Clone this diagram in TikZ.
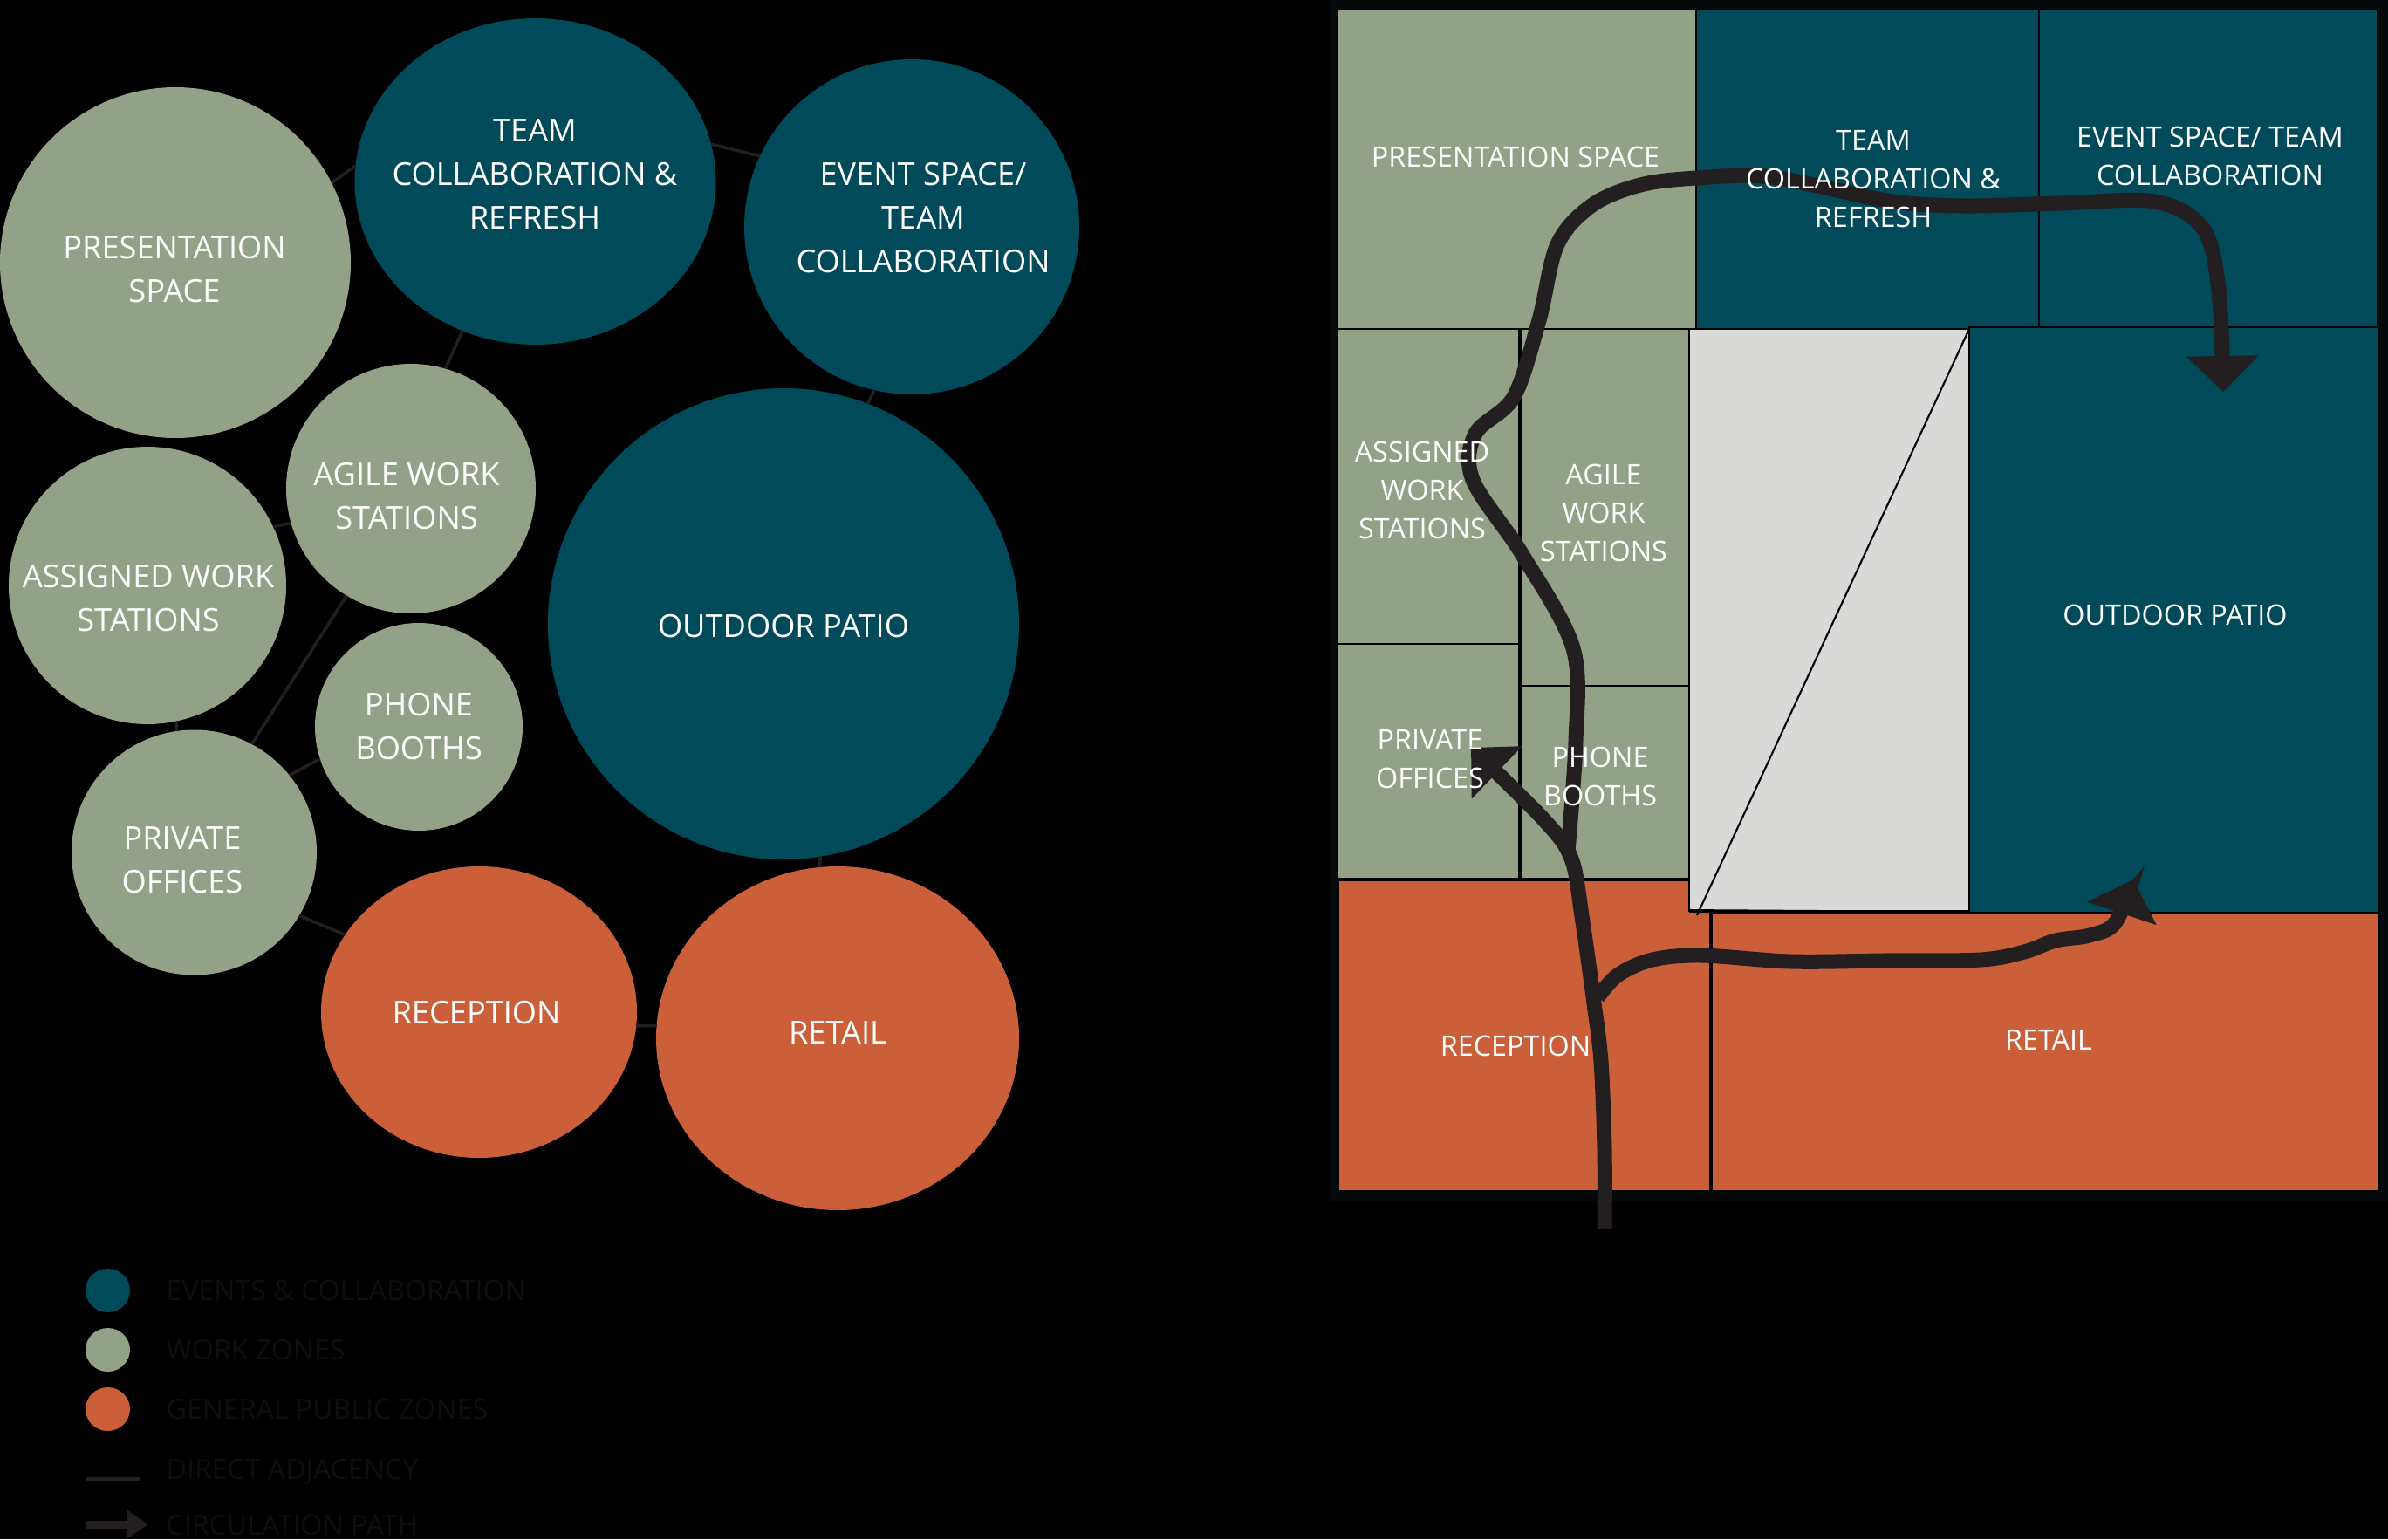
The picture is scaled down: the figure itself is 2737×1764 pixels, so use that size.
\documentclass[tikz,border=0pt]{standalone}
\usepackage{fontspec}
\setmainfont{Open Sans}
\usetikzlibrary{arrows.meta, shapes.geometric}
\definecolor{cteal}{HTML}{004A59}
\definecolor{csage}{HTML}{93A186}
\definecolor{crust}{HTML}{CB5F3A}
\definecolor{cgrey}{HTML}{D9D9D7}
\definecolor{cink}{HTML}{231F20}
\definecolor{cstrip}{HTML}{040808}
\definecolor{cfaint}{HTML}{0E0E0E}
\tikzset{
  zone/.style={ellipse, fill=#1, inner sep=0pt, outer sep=0pt},
  room/.style={draw=black, line width=0.5pt, fill=#1, anchor=north west, inner sep=0pt, outer sep=0pt},
  bigtext/.style={text=white, align=center, font=\fontsize{10.3}{14.2}\selectfont},
  roomtext/.style={text=white, align=center, font=\fontsize{9.2}{12.45}\selectfont},
  legendtext/.style={text=cfaint, anchor=west, inner sep=0pt, font=\fontsize{9.12}{12.45}\selectfont},
  link/.style={draw=cink, line width=1pt},
  wall/.style={draw=black, line width=1.1pt},
  circ/.style={-{Triangle[length=4.1mm, width=8.1mm]}, draw=cink, line width=1.7mm},
}
\begin{document}
\begin{tikzpicture}[x=0.01cm, y=-0.01cm]
  \useasboundingbox (0,0) rectangle (2737,1764);
  \fill[black] (0,0) rectangle (2737,1764);
  \fill[cstrip] (1524,0) rectangle (2737,1376);
  \foreach \n/\c/\x/\y/\w/\h in {pres/csage/201/301/402/402, team/cteal/613.5/208/414/374, event/cteal/1045/260/384/384,
      patio/cteal/898/715/540/540, agile/csage/471/560/286/286, assigned/csage/169/671/318/318, phone/csage/480/833/238/238,
      private/csage/222.5/977/281/281, reception/crust/549/1160/362/334, retail/crust/960/1190/416/394} {
    \node[zone=\c, minimum width=\w*0.01cm, minimum height=\h*0.01cm] (\n) at (\x,\y) {};
  }
  \draw[link] (pres.27.8) -- (team.175.8);
  \draw[link] (team.12.6) -- (event.155);
  \draw[link] (team.-116.9) -- (agile.74.2);
  \draw[link] (event.-103.1) -- (patio.69.9);
  \draw[link] (assigned.25.9) -- (agile.196.5);
  \draw[link] (assigned.-78.5) -- (private.98.9);
  \draw[link] (agile.-121.7) -- (private.62.3);
  \draw[link] (phone.198.1) -- (private.39.5);
  \draw[link] (private.-31.2) -- (reception.150.5);
  \draw[link] (reception.-5) -- (retail.176.1);
  \draw[link] (patio.-81.4) -- (retail.96.4);
  \foreach \n/\x/\y/\t in {pres/200/309/{PRESENTATION\\SPACE}, team/613/200/{TEAM\\COLLABORATION \&\\REFRESH},
      event/1058/250/{EVENT SPACE/\\TEAM\\COLLABORATION}, patio/898/718/{OUTDOOR PATIO}, agile/466/569/{AGILE WORK\\STATIONS},
      assigned/170/686/{ASSIGNED WORK\\STATIONS}, phone/480/833/{PHONE\\BOOTHS}, private/209/986/{PRIVATE\\OFFICES},
      reception/546/1161/{RECEPTION}, retail/960/1184/{RETAIL}} {
    \node[bigtext] (\n-t) at (\x,\y) {\t};
  }
  \foreach \n/\c/\x/\y/\w/\h in {rreception/crust/1534/1008/427/357, rretail/crust/1961/1046/766/319, rpres/csage/1533/11/411/366,
      rteam/cteal/1944/11/393/366, revent/cteal/2337/11/388/366, rassigned/csage/1533/377/209/361, ragile/csage/1742/377/194/409,
      rprivate/csage/1533/738/209/270, rphone/csage/1742/786/194/222, rgrey/cgrey/1936/377/321/667, rpatio/cteal/2257/375/470/671} {
    \node[room=\c, minimum width=\w*0.01cm, minimum height=\h*0.01cm] (\n) at (\x,\y) {};
  }
  \coordinate (diagfoot) at (1945,1049);
  \draw[black, line width=0.6pt] (rgrey.north east) -- (diagfoot);
  \draw[wall] (rassigned.north east) -- (rprivate.south east);
  \draw[wall] (rprivate.south west) -- (rphone.south east);
  \draw[wall] (rgrey.south west) -- (rpatio.south west);
  \draw[wall] (rretail.north west) -- (rretail.south west);
  \coordinate (entry) at (1839,1408);
  \coordinate (tipwest) at (1686,857);
  \coordinate (forknorth) at (1797,975);
  \coordinate (tipnorth) at (2548,449);
  \coordinate (forkeast) at (1831,1143);
  \coordinate (tipeast) at (2445,1008);
  \draw[circ] plot[smooth, tension=0.55] coordinates {(entry) (1839,1317) (1835,1217) (1827,1150) (1813,1050) (1801,984) (1770,940) (tipwest)};
  \draw[circ] plot[smooth, tension=0.55] coordinates {(forknorth) (1806,850) (1803,743) (1745,636) (1688,550) (1691,497) (1735,455) (1764,367) (1785,280) (1825,235) (1880,212) (1945,204)
      (2031,203) (2163,230) (2250,236) (2361,233) (2470,231) (2525,262) (2543,333) (tipnorth)};
  \draw[circ] plot[smooth, tension=0.55] coordinates {(forkeast) (1855,1117) (1894,1100) (1950,1095) (2052,1102) (2160,1101) (2270,1100) (2320,1091) (2356,1078) (2395,1072) (2424,1058) (tipeast)};
  \foreach \n/\x/\y/\t in {rpres/1737/180/{PRESENTATION SPACE}, rteam/2147/205/{TEAM\\COLLABORATION \&\\REFRESH},
      revent/2533/179/{EVENT SPACE/ TEAM\\COLLABORATION}, rassigned/1630/562/{ASSIGNED\\WORK\\STATIONS}, ragile/1838/588/{AGILE\\WORK\\STATIONS},
      rprivate/1639/870/{PRIVATE\\OFFICES}, rphone/1834/890/{PHONE\\BOOTHS}, rpatio/2493/705/{OUTDOOR PATIO},
      rreception/1737/1199/{RECEPTION}, rretail/2348/1192/{RETAIL}} {
    \node[roomtext] (\n-t) at (\x,\y) {\t};
  }
  \foreach \n/\c/\y/\t in {kevents/cteal/1479/{EVENTS \& COLLABORATION}, kwork/csage/1547/{WORK ZONES}, kpublic/crust/1615/{GENERAL PUBLIC ZONES}} {
    \node[zone=\c, minimum width=0.51cm, minimum height=0.5cm] (\n) at (123.5,\y) {};
    \node[legendtext] (\n-t) at (190,\y) {\t};
  }
  \coordinate (keylinea) at (98,1695);
  \coordinate (keylineb) at (160,1695);
  \draw[link] (keylinea) -- (keylineb);
  \node[legendtext] (kadj-t) at (190,1687) {DIRECT ADJACENCY};
  \coordinate (keyarrowa) at (98,1747);
  \coordinate (keyarrowb) at (170,1747);
  \draw[-{Triangle[length=2.5mm, width=3.2mm]}, draw=cink, line width=0.9mm] (keyarrowa) -- (keyarrowb);
  \node[legendtext] (kcirc-t) at (190,1748) {CIRCULATION PATH};
\end{tikzpicture}
\end{document}
